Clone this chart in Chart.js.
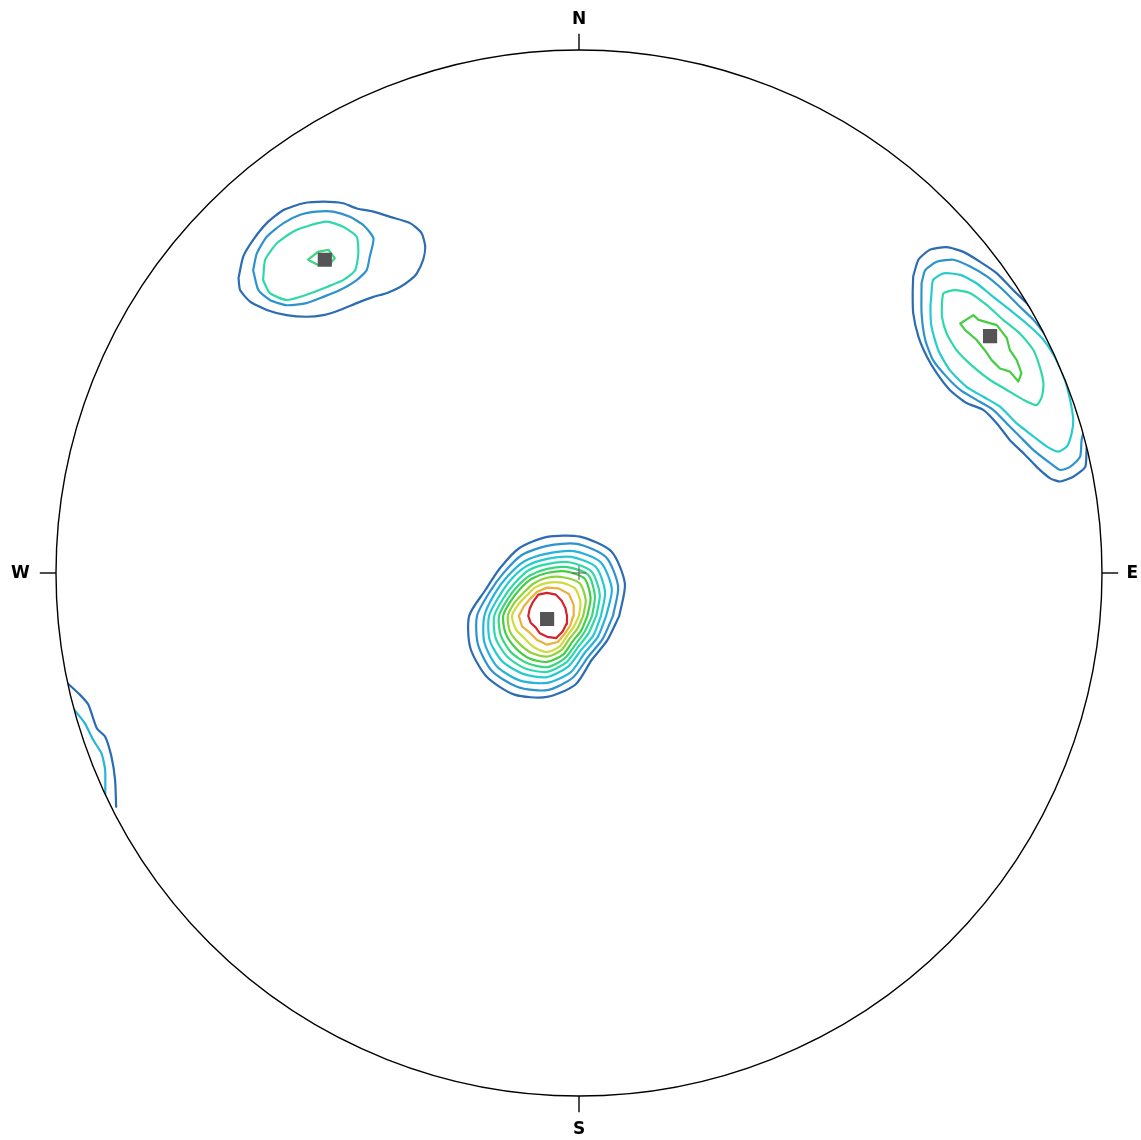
<!DOCTYPE html>
<html>
<head>
<meta charset="utf-8">
<title>Pole density stereonet</title>
<script src="https://cdn.jsdelivr.net/npm/chart.js@4.4.0/dist/chart.umd.min.js"></script>
<style>
  html, body { margin: 0; padding: 0; background: #ffffff; }
  canvas { display: block; }
</style>
</head>
<body>
<canvas id="net" width="1141" height="1140"></canvas>
<script>
// Equal-area net, primitive circle radius = 100 net units.
const NET_RADIUS = 100;

// Contour level colours, lowest density first.
const levelColours = ['#2b6cb3', '#2c92d0', '#27b2dc', '#26cbcf', '#2fd8ab', '#38d67f',
                      '#45cd45', '#8fd33b', '#cfdc3e', '#eab23c', '#d4232b'];

// Density maxima (plotted as squares), net x / y.
const poleX = [-6.1, -48.6, 78.6];
const poleY = [-8.8, 59.9, 45.3];

// Centre of the net.
const centreX = [0];
const centreY = [0];

// Central cluster: contour radii (net units) around the cluster centre, by bearing.
const centralCentre = [-6.1, -8.2];
const centralBearings = [0, 22.5, 45, 67.5, 90, 112.5, 135, 157.5, 180, 202.5, 225, 247.5, 270, 292.5, 315, 337.5];
const centralRadii = [
  [13.8, 16.1, 17.4, 16.4, 15.1, 14.0, 12.8, 12.8, 14.9, 15.9, 16.4, 16.3, 15.5, 14.2, 12.0, 12.4],
  [12.6, 14.7, 15.9, 14.9, 13.4, 12.6, 11.7, 11.9, 13.4, 14.3, 14.9, 14.7, 14.2, 12.8, 11.1, 11.5],
  [11.3, 13.4, 14.5, 13.4, 11.9, 11.3, 10.7, 10.9, 12.0, 13.0, 13.6, 13.4, 12.8, 11.7, 10.1, 10.5],
  [10.3, 12.0, 13.2, 12.2, 10.9, 10.3, 9.8, 9.9, 11.1, 11.9, 12.2, 12.0, 11.7, 10.5, 9.2, 9.6],
  [9.4, 10.9, 12.0, 11.1, 9.9, 9.4, 8.8, 9.0, 10.1, 10.7, 10.9, 10.9, 10.7, 9.6, 8.4, 8.6],
  [8.6, 9.9, 11.1, 10.1, 9.0, 8.4, 8.0, 8.2, 9.2, 9.6, 9.8, 9.8, 9.8, 8.8, 7.7, 7.8],
  [7.7, 9.0, 10.1, 9.2, 8.2, 7.7, 7.3, 7.5, 8.4, 8.6, 8.6, 8.8, 8.8, 8.0, 6.9, 7.1],
  [6.9, 8.0, 8.8, 8.0, 7.3, 6.7, 6.3, 6.7, 7.5, 7.7, 7.5, 7.7, 7.8, 7.1, 6.1, 6.3],
  [6.1, 6.9, 7.5, 6.9, 6.3, 5.9, 5.5, 5.9, 6.7, 6.5, 6.1, 6.5, 6.9, 6.3, 5.4, 5.5],
  [5.0, 5.5, 5.9, 5.7, 5.4, 5.0, 4.6, 4.8, 5.4, 5.2, 4.6, 5.0, 5.5, 5.4, 4.8, 4.8],
  [3.8, 3.8, 4.0, 4.4, 4.4, 4.4, 3.8, 3.6, 3.6, 3.4, 3.1, 3.6, 4.0, 4.6, 4.2, 4.0]
];

// North-west cluster contours, net x / y vertices.
const nwLevels = [0, 1, 4, 5];
const nwContours = [
  [[-65.1, 56.4], [-64.2, 60.5], [-62.3, 63.7], [-59.7, 66.9], [-56.5, 69.4], [-52.7, 70.7], [-48.9, 71.0],
   [-45.1, 70.7], [-42.5, 69.7], [-39.3, 69.1], [-36.1, 68.1], [-32.3, 66.9], [-30.1, 65.0], [-29.4, 62.4],
   [-29.8, 59.9], [-31.0, 57.3], [-32.3, 56.0], [-34.2, 54.7], [-36.8, 53.5], [-39.3, 52.8], [-42.5, 51.6],
   [-45.7, 50.3], [-48.9, 49.3], [-52.1, 49.0], [-55.9, 49.3], [-59.7, 50.3], [-62.9, 51.9], [-64.8, 54.1]],
  [[-62.3, 57.9], [-61.6, 61.1], [-59.7, 64.3], [-56.5, 66.9], [-53.3, 68.5], [-50.2, 69.1], [-47.0, 69.1],
   [-43.8, 68.1], [-41.2, 66.5], [-39.3, 64.0], [-40.0, 60.5], [-40.6, 57.9], [-42.5, 56.0], [-45.7, 54.1],
   [-48.9, 52.8], [-52.1, 51.6], [-55.9, 51.2], [-59.1, 52.2], [-61.3, 54.1]],
  [[-60.4, 56.0], [-60.0, 59.9], [-57.8, 63.0], [-54.6, 65.3], [-51.4, 66.5], [-48.2, 67.2], [-45.1, 66.2],
   [-42.5, 64.3], [-42.2, 61.1], [-42.8, 57.9], [-45.1, 56.0], [-48.2, 54.7], [-52.1, 53.2], [-55.9, 52.2],
   [-59.1, 53.5]],
  [[-51.8, 59.9], [-49.9, 61.4], [-47.9, 61.8], [-46.7, 60.2], [-47.6, 59.2], [-49.9, 58.9]]
];

// North-east cluster contours, net x / y vertices (cut by the primitive circle).
const neLevels = [0, 1, 3, 4, 6];
const neContours = [
  [[63.9, 56.7], [64.9, 59.9], [67.1, 61.8], [70.3, 62.3], [73.5, 61.4], [76.7, 59.5], [79.9, 57.3],
   [83.0, 54.1], [85.6, 51.6], [87.5, 49.0], [90.1, 46.5], [94.8, 36.9], [98.1, 27.3], [97.1, 24.2],
   [96.8, 20.3], [94.5, 18.4], [92.0, 17.5], [90.1, 18.1], [87.5, 20.3], [85.0, 22.9], [82.4, 25.4],
   [79.9, 28.6], [77.3, 31.2], [74.1, 32.5], [70.9, 35.0], [68.4, 38.2], [66.5, 41.4], [64.9, 45.2],
   [63.9, 49.7], [63.8, 53.5]],
  [[65.5, 55.4], [66.2, 57.9], [68.4, 59.5], [71.6, 59.9], [74.8, 58.6], [78.0, 56.7], [81.1, 54.1],
   [84.3, 50.9], [86.9, 48.4], [89.4, 45.2], [91.3, 42.6], [93.9, 36.9], [96.8, 29.3], [96.1, 25.4],
   [95.8, 22.2], [93.9, 20.3], [92.0, 19.7], [90.1, 21.0], [86.9, 23.5], [84.3, 26.1], [81.8, 28.6],
   [79.2, 31.2], [76.0, 33.1], [72.9, 35.0], [70.3, 37.5], [67.7, 40.7], [66.2, 44.6], [65.5, 49.7]],
  [[67.4, 53.5], [67.7, 56.0], [69.7, 57.3], [72.9, 57.0], [76.0, 55.4], [79.2, 52.8], [82.4, 50.3],
   [85.6, 47.7], [88.8, 44.6], [91.3, 40.7], [92.9, 36.9], [93.9, 33.1], [94.5, 29.3], [94.2, 26.7],
   [93.3, 24.2], [91.6, 23.2], [89.4, 24.2], [86.9, 26.1], [83.7, 28.6], [80.5, 31.8], [77.3, 33.7],
   [74.1, 35.6], [70.9, 38.8], [68.7, 42.6], [67.4, 47.1], [67.2, 50.9]],
  [[69.4, 51.6], [69.7, 53.5], [71.9, 54.1], [74.8, 53.5], [78.0, 51.2], [81.1, 48.4], [84.3, 45.8],
   [86.9, 42.6], [88.1, 39.4], [88.8, 36.3], [88.5, 33.7], [87.5, 32.1], [85.0, 33.1], [81.8, 35.0],
   [78.6, 36.9], [75.4, 39.4], [72.2, 42.6], [70.3, 45.8], [69.4, 49.0]],
  [[72.9, 47.7], [75.4, 49.3], [76.4, 48.4], [79.9, 47.4], [81.8, 44.9], [82.4, 42.6], [83.7, 40.7],
   [84.6, 38.2], [84.0, 36.6], [82.4, 38.5], [80.5, 39.1], [78.9, 40.7], [77.6, 42.6], [76.0, 44.6],
   [73.8, 46.5]]
];

// Western edge contours (open, cut by the primitive circle).
const westLevels = [0, 2];
const westContours = [
  [[-98.1, -20.8], [-95.4, -23.3], [-93.8, -25.2], [-92.2, -29.7], [-90.6, -31.3], [-89.4, -35.1],
   [-88.7, -39.6], [-88.5, -44.7]],
  [[-96.8, -25.8], [-94.5, -28.7], [-92.9, -31.9], [-91.3, -34.5], [-90.6, -37.7], [-90.6, -43.4]]
];

// Cardinal point labels.
const cardinalLabels = ['N', 'E', 'S', 'W'];

// ---- build datasets ----
function toPoints(vertices, closed) {
  const pts = vertices.map(([x, y]) => ({ x, y }));
  if (closed) pts.push({ ...pts[0] });
  return pts;
}

function contourDataset(points, level, tension) {
  return {
    type: 'scatter',
    data: points,
    showLine: true,
    fill: false,
    borderColor: levelColours[level],
    backgroundColor: levelColours[level],
    borderWidth: 2.2,
    borderJoinStyle: 'round',
    borderCapStyle: 'round',
    tension: tension,
    pointRadius: 0,
    pointHoverRadius: 0
  };
}

const datasets = [];

// Maxima squares and net centre on top.
datasets.push({
  type: 'scatter',
  data: poleX.map((x, i) => ({ x, y: poleY[i] })),
  pointStyle: 'rect',
  pointRadius: 10,
  pointHoverRadius: 10,
  backgroundColor: '#555555',
  borderColor: '#555555',
  borderWidth: 0
});
datasets.push({
  type: 'scatter',
  data: centreX.map((x, i) => ({ x, y: centreY[i] })),
  pointStyle: 'cross',
  pointRadius: 7,
  pointHoverRadius: 7,
  borderColor: '#5a5a5a',
  borderWidth: 1
});

// Central cluster rings, from the outermost level inwards.
centralRadii.forEach((radii, level) => {
  const verts = centralBearings.map((b, i) => {
    const a = b * Math.PI / 180;
    return [centralCentre[0] + radii[i] * Math.cos(a), centralCentre[1] + radii[i] * Math.sin(a)];
  });
  datasets.push(contourDataset(toPoints(verts, true), level, level >= 9 ? 0 : 0.25));
});

nwContours.forEach((verts, i) => {
  datasets.push(contourDataset(toPoints(verts, true), nwLevels[i], i === 3 ? 0 : 0.2));
});

neContours.forEach((verts, i) => {
  datasets.push(contourDataset(toPoints(verts, true), neLevels[i], i === 4 ? 0 : 0.2));
});

westContours.forEach((verts, i) => {
  datasets.push(contourDataset(toPoints(verts, false), westLevels[i], 0.2));
});

// ---- primitive circle, clipping, ticks and labels ----
const netFrame = {
  id: 'netFrame',
  beforeDatasetsDraw(chart) {
    const { ctx, scales: { x, y } } = chart;
    const cx = x.getPixelForValue(0), cy = y.getPixelForValue(0);
    const r = x.getPixelForValue(NET_RADIUS) - cx;
    ctx.save();
    ctx.beginPath();
    ctx.arc(cx, cy, r, 0, Math.PI * 2);
    ctx.clip();
  },
  afterDatasetsDraw(chart) {
    const { ctx, scales: { x, y } } = chart;
    ctx.restore();
    const cx = x.getPixelForValue(0), cy = y.getPixelForValue(0);
    const r = x.getPixelForValue(NET_RADIUS) - cx;

    ctx.save();
    ctx.strokeStyle = '#000000';
    ctx.lineWidth = 1.4;
    ctx.beginPath();
    ctx.arc(cx, cy, r, 0, Math.PI * 2);
    ctx.stroke();

    // direction and label distance (in net radii) for each cardinal point
    const dirs = [[0, 1, 1.061], [1, 0, 1.058], [0, -1, 1.062], [-1, 0, 1.068]];
    ctx.lineWidth = 1.4;
    ctx.fillStyle = '#000000';
    ctx.font = 'bold 17px "DejaVu Sans", sans-serif';
    ctx.textAlign = 'center';
    ctx.textBaseline = 'middle';
    cardinalLabels.forEach((label, i) => {
      const [dx, dy, k] = dirs[i];
      const x0 = x.getPixelForValue(dx * NET_RADIUS), y0 = y.getPixelForValue(dy * NET_RADIUS);
      const x1 = x.getPixelForValue(dx * NET_RADIUS * 1.031), y1 = y.getPixelForValue(dy * NET_RADIUS * 1.031);
      ctx.beginPath();
      ctx.moveTo(x0, y0);
      ctx.lineTo(x1, y1);
      ctx.stroke();
      const lx = x.getPixelForValue(dx * NET_RADIUS * k), ly = y.getPixelForValue(dy * NET_RADIUS * k);
      ctx.fillText(label, lx, ly + 1);
    });
    ctx.restore();
  }
};

new Chart(document.getElementById('net'), {
  type: 'scatter',
  data: { datasets },
  options: {
    responsive: false,
    animation: false,
    devicePixelRatio: 1,
    events: [],
    layout: { padding: 0, autoPadding: false },
    plugins: { legend: { display: false }, tooltip: { enabled: false }, title: { display: false } },
    scales: {
      x: { type: 'linear', min: -110.707, max: 107.457, display: false },
      y: { type: 'linear', min: -108.413, max: 109.560, display: false }
    }
  },
  plugins: [netFrame]
});
</script>
</body>
</html>
